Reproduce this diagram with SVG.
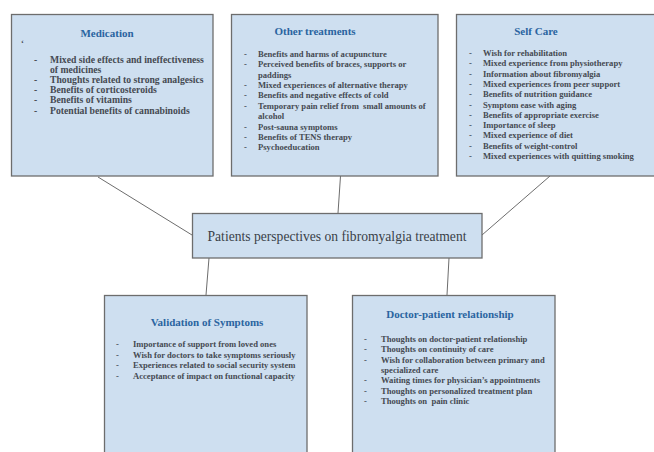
<svg xmlns="http://www.w3.org/2000/svg" width="654" height="452" viewBox="0 0 654 452">
<style>
.box{fill:#cedff0;stroke:#6d6d6d;stroke-width:1.3}
.title{font-family:"Liberation Serif","DejaVu Serif",serif;font-weight:bold;font-size:11px;fill:#2a64a0;text-anchor:middle}
.item{font-family:"Liberation Serif","DejaVu Serif",serif;font-weight:bold;font-size:8.6px;fill:#454a52}
.big{font-size:9.7px}
.center{font-family:"Liberation Serif","DejaVu Serif",serif;font-size:13.6px;fill:#3a3f48;text-anchor:middle}
.conn line{stroke:#6d6d6d;stroke-width:1}
</style>
<rect width="654" height="452" fill="#ffffff"/>
<g class="conn" id="connectors">
<line x1="98" y1="177" x2="192" y2="235"/>
<line x1="340.5" y1="176" x2="338" y2="213"/>
<line x1="550" y1="176" x2="482" y2="235"/>
<line x1="209" y1="258" x2="206" y2="295"/>
<line x1="449" y1="258" x2="447" y2="295"/>
</g>
<g id="medication">
<rect class="box" x="11.5" y="14.5" width="201.5" height="161.5"/>
<text class="title" x="107" y="37">Medication</text>
<text class="item" x="21" y="46">‘</text>
<g class="item big">
<text x="34" y="63">-</text><text x="50" y="63">Mixed side effects and ineffectiveness</text>
<text x="50" y="72.8">of medicines</text>
<text x="34" y="83">-</text><text x="50" y="83">Thoughts related to strong analgesics</text>
<text x="34" y="93.2">-</text><text x="50" y="93.2">Benefits of corticosteroids</text>
<text x="34" y="103.3">-</text><text x="50" y="103.3">Benefits of vitamins</text>
<text x="34" y="113.5">-</text><text x="50" y="113.5">Potential benefits of cannabinoids</text>
</g>
</g>
<g id="other-treatments">
<rect class="box" x="231.5" y="14.5" width="206.5" height="161.5"/>
<text class="title" x="315" y="35">Other treatments</text>
<g class="item">
<text x="244" y="57">-</text><text x="258" y="57">Benefits and harms of acupuncture</text>
<text x="244" y="67.3">-</text><text x="258" y="67.3">Perceived benefits of braces, supports or</text>
<text x="258" y="77.6">paddings</text>
<text x="244" y="87.9">-</text><text x="258" y="87.9">Mixed experiences of alternative therapy</text>
<text x="244" y="98.2">-</text><text x="258" y="98.2">Benefits and negative effects of cold</text>
<text x="244" y="108.5">-</text><text x="258" y="108.5" xml:space="preserve">Temporary pain relief from  small amounts of</text>
<text x="258" y="118.8">alcohol</text>
<text x="244" y="129.8">-</text><text x="258" y="129.8">Post-sauna symptoms</text>
<text x="244" y="140">-</text><text x="258" y="140">Benefits of TENS therapy</text>
<text x="244" y="150.3">-</text><text x="258" y="150.3">Psychoeducation</text>
</g>
</g>
<g id="self-care">
<rect class="box" x="456.5" y="14.5" width="199" height="161.5"/>
<text class="title" x="536" y="35">Self Care</text>
<g class="item">
<text x="469" y="56">-</text><text x="483" y="56">Wish for rehabilitation</text>
<text x="469" y="66.3">-</text><text x="483" y="66.3">Mixed experience from physiotherapy</text>
<text x="469" y="76.6">-</text><text x="483" y="76.6">Information about fibromyalgia</text>
<text x="469" y="86.9">-</text><text x="483" y="86.9">Mixed experiences from peer support</text>
<text x="469" y="97.2">-</text><text x="483" y="97.2">Benefits of nutrition guidance</text>
<text x="469" y="107.5">-</text><text x="483" y="107.5">Symptom ease with aging</text>
<text x="469" y="117.8">-</text><text x="483" y="117.8">Benefits of appropriate exercise</text>
<text x="469" y="128.1">-</text><text x="483" y="128.1">Importance of sleep</text>
<text x="469" y="138.4">-</text><text x="483" y="138.4">Mixed experience of diet</text>
<text x="469" y="148.7">-</text><text x="483" y="148.7">Benefits of weight-control</text>
<text x="469" y="159">-</text><text x="483" y="159">Mixed experiences with quitting smoking</text>
</g>
</g>
<g id="center">
<rect class="box" x="192.5" y="213.5" width="289.5" height="44.5"/>
<text class="center" x="337" y="241">Patients perspectives on fibromyalgia treatment</text>
</g>
<g id="validation">
<rect class="box" x="104.5" y="295.5" width="202.5" height="170"/>
<text class="title" x="207" y="326">Validation of Symptoms</text>
<g class="item">
<text x="116" y="347">-</text><text x="133" y="347">Importance of support from loved ones</text>
<text x="116" y="357.5">-</text><text x="133" y="357.5">Wish for doctors to take symptoms seriously</text>
<text x="116" y="368">-</text><text x="133" y="368">Experiences related to social security system</text>
<text x="116" y="378.5">-</text><text x="133" y="378.5">Acceptance of impact on functional capacity</text>
</g>
</g>
<g id="doctor-patient">
<rect class="box" x="352.5" y="295.5" width="202.5" height="170"/>
<text class="title" x="450" y="318">Doctor-patient relationship</text>
<g class="item">
<text x="364" y="342">-</text><text x="381" y="342">Thoughts on doctor-patient relationship</text>
<text x="364" y="352.3">-</text><text x="381" y="352.3">Thoughts on continuity of care</text>
<text x="364" y="362.6">-</text><text x="381" y="362.6">Wish for collaboration between primary and</text>
<text x="381" y="372.9">specialized care</text>
<text x="364" y="383.2">-</text><text x="381" y="383.2">Waiting times for physician’s appointments</text>
<text x="364" y="393.5">-</text><text x="381" y="393.5">Thoughts on personalized treatment plan</text>
<text x="364" y="403.8">-</text><text x="381" y="403.8" xml:space="preserve">Thoughts on  pain clinic</text>
</g>
</g>
</svg>
